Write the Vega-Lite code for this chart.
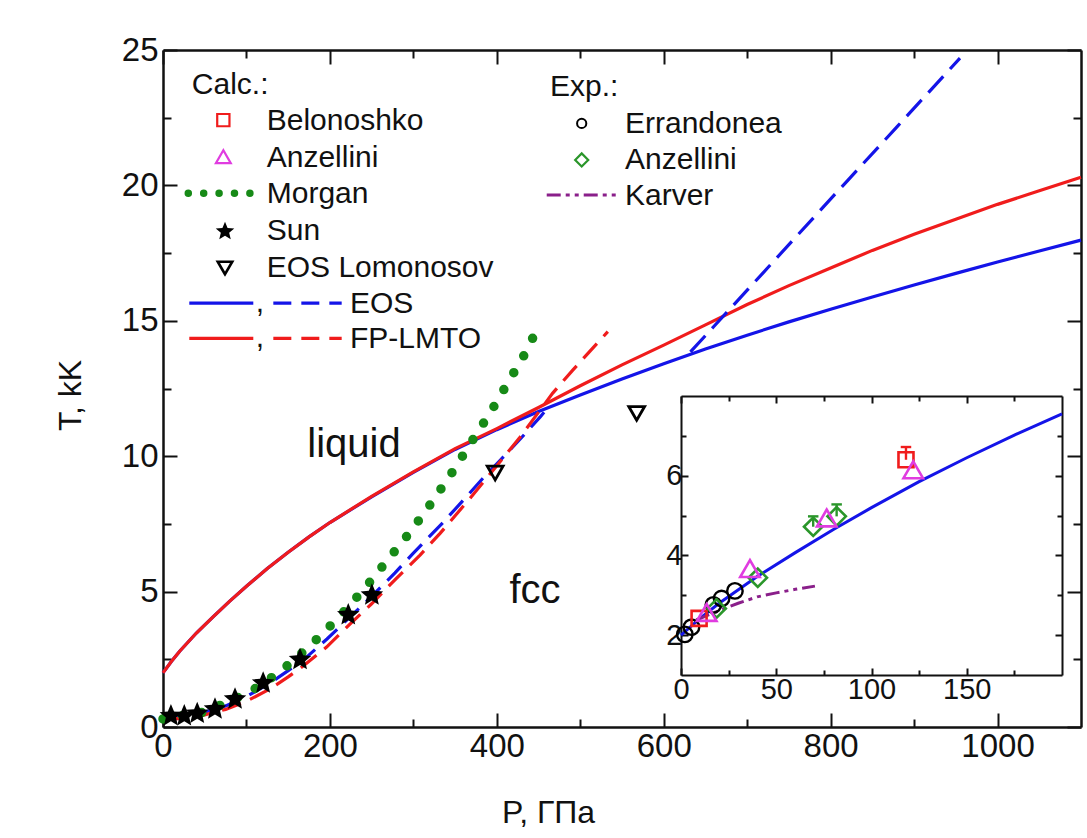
{
  "$schema": "https://vega.github.io/schema/vega-lite/v6.json",
  "width": 918,
  "height": 677,
  "autosize": {"type": "none"},
  "padding": {"left": 163, "top": 50, "right": 6, "bottom": 111},
  "background": "white",
  "config": {
    "view": {"stroke": null},
    "font": "Liberation Sans",
    "axis": {
      "domainColor": "#111111", "domainWidth": 2.5,
      "tickColor": "#111111", "tickWidth": 2,
      "labelColor": "#111111", "titleColor": "#111111",
      "labelFont": "Liberation Sans", "titleFont": "Liberation Sans",
      "titleFontWeight": "normal", "grid": false,
      "labelFlush": false, "labelOverlap": false
    },
    "text": {"font": "Liberation Sans", "color": "#111111"}
  },
  "datasets": {
    "eosMelt": [
      {"P": 0, "T": 2.0}, {"P": 10, "T": 2.42}, {"P": 20, "T": 2.8}, {"P": 40, "T": 3.47},
      {"P": 60, "T": 4.07}, {"P": 80, "T": 4.65}, {"P": 100, "T": 5.2}, {"P": 125, "T": 5.85},
      {"P": 150, "T": 6.45}, {"P": 175, "T": 7.02}, {"P": 200, "T": 7.55}, {"P": 250, "T": 8.5},
      {"P": 300, "T": 9.4}, {"P": 350, "T": 10.25}, {"P": 400, "T": 10.98}, {"P": 450, "T": 11.65},
      {"P": 500, "T": 12.26}, {"P": 550, "T": 12.85}, {"P": 600, "T": 13.41}, {"P": 650, "T": 13.96},
      {"P": 700, "T": 14.47}, {"P": 750, "T": 14.96}, {"P": 800, "T": 15.43}, {"P": 850, "T": 15.88},
      {"P": 900, "T": 16.32}, {"P": 950, "T": 16.75}, {"P": 1000, "T": 17.17}, {"P": 1050, "T": 17.58},
      {"P": 1100, "T": 17.98}
    ],
    "fpMelt": [
      {"P": 0, "T": 2.0}, {"P": 10, "T": 2.42}, {"P": 20, "T": 2.8}, {"P": 40, "T": 3.47},
      {"P": 60, "T": 4.07}, {"P": 80, "T": 4.65}, {"P": 100, "T": 5.2}, {"P": 125, "T": 5.85},
      {"P": 150, "T": 6.45}, {"P": 175, "T": 7.02}, {"P": 200, "T": 7.55}, {"P": 250, "T": 8.52},
      {"P": 300, "T": 9.42}, {"P": 350, "T": 10.28}, {"P": 400, "T": 11.02}, {"P": 450, "T": 11.8},
      {"P": 500, "T": 12.6}, {"P": 550, "T": 13.37}, {"P": 600, "T": 14.1}, {"P": 650, "T": 14.85},
      {"P": 700, "T": 15.6}, {"P": 750, "T": 16.3}, {"P": 800, "T": 16.95}, {"P": 850, "T": 17.6},
      {"P": 900, "T": 18.2}, {"P": 950, "T": 18.75}, {"P": 1000, "T": 19.3}, {"P": 1050, "T": 19.8},
      {"P": 1100, "T": 20.3}
    ],
    "eosFccLow": [
      {"P": 0, "T": 0.38}, {"P": 25, "T": 0.42}, {"P": 50, "T": 0.55}, {"P": 75, "T": 0.78},
      {"P": 100, "T": 1.12}, {"P": 128, "T": 1.62}, {"P": 150, "T": 2.08}, {"P": 168, "T": 2.47},
      {"P": 196.5, "T": 3.25}, {"P": 224, "T": 4.06}, {"P": 248, "T": 4.76}, {"P": 278, "T": 5.69},
      {"P": 300, "T": 6.42}, {"P": 335.5, "T": 7.55}, {"P": 360, "T": 8.38}, {"P": 383.5, "T": 9.19},
      {"P": 404, "T": 9.85}, {"P": 430, "T": 10.7}, {"P": 452, "T": 11.45}, {"P": 460, "T": 11.75}
    ],
    "eosFccHigh": [
      {"P": 632, "T": 13.85}, {"P": 660, "T": 14.79}, {"P": 700, "T": 16.13}, {"P": 760, "T": 18.15},
      {"P": 820, "T": 20.17}, {"P": 880, "T": 22.18}, {"P": 955, "T": 24.7}
    ],
    "fpFcc": [
      {"P": 0, "T": 0.28}, {"P": 25, "T": 0.32}, {"P": 50, "T": 0.45}, {"P": 75, "T": 0.65},
      {"P": 100, "T": 0.95}, {"P": 128, "T": 1.4}, {"P": 150, "T": 1.85}, {"P": 168, "T": 2.25},
      {"P": 196, "T": 2.95}, {"P": 224, "T": 3.8}, {"P": 250, "T": 4.55}, {"P": 280, "T": 5.5},
      {"P": 308, "T": 6.35}, {"P": 332, "T": 7.15}, {"P": 368, "T": 8.45}, {"P": 400, "T": 9.65},
      {"P": 428, "T": 10.71}, {"P": 467, "T": 12.33}, {"P": 491, "T": 13.18}, {"P": 533, "T": 14.6}
    ],
    "morgan": [
      {"P": 0, "T": 0.3}, {"P": 50, "T": 0.55}, {"P": 104, "T": 1.29}, {"P": 140, "T": 2.03},
      {"P": 176, "T": 2.99}, {"P": 210, "T": 4.03}, {"P": 242, "T": 5.13}, {"P": 270, "T": 6.2},
      {"P": 298, "T": 7.27}, {"P": 324, "T": 8.38}, {"P": 347.5, "T": 9.45}, {"P": 369, "T": 10.5},
      {"P": 392, "T": 11.6}, {"P": 413, "T": 12.7}, {"P": 434, "T": 13.8}, {"P": 443, "T": 14.36}
    ],
    "sun": [
      {"P": 9.5, "T": 0.41}, {"P": 25.5, "T": 0.41}, {"P": 41, "T": 0.5}, {"P": 62.3, "T": 0.66},
      {"P": 86.3, "T": 1.03}, {"P": 120, "T": 1.62}, {"P": 164.2, "T": 2.49}, {"P": 222, "T": 4.14},
      {"P": 250.3, "T": 4.87}
    ],
    "lomonosov": [{"P": 398, "T": 9.38}, {"P": 567.6, "T": 11.58}],
    "karver": [
      {"P": 8, "T": 2.38}, {"P": 15, "T": 2.52}, {"P": 23, "T": 2.67}, {"P": 30, "T": 2.8},
      {"P": 40, "T": 2.96}, {"P": 50, "T": 3.06}, {"P": 60, "T": 3.15}, {"P": 70.3, "T": 3.23}
    ],
    "errandonea": [
      {"P": 2, "T": 2.02}, {"P": 5.5, "T": 2.2}, {"P": 17, "T": 2.76}, {"P": 21.3, "T": 2.92}, {"P": 28.3, "T": 3.11}
    ],
    "belonoshko": [{"P": 9.5, "T": 2.42}, {"P": 118.1, "T": 6.4}],
    "anzelliniCalc": [{"P": 13.5, "T": 2.57}, {"P": 36.2, "T": 3.67}, {"P": 76.5, "T": 4.94}, {"P": 121.9, "T": 6.15}],
    "anzelliniExp": [{"P": 18.7, "T": 2.67}, {"P": 40.3, "T": 3.44}, {"P": 69.4, "T": 4.72}, {"P": 81.7, "T": 4.98}],
    "errors": [
      {"P": 69.4, "T": 4.72, "hi": 4.98, "series": "Anzellini"},
      {"P": 81.7, "T": 4.98, "hi": 5.28, "series": "Anzellini"},
      {"P": 118.1, "T": 6.4, "hi": 6.72, "series": "Belonoshko"}
    ],
    "legendText": [
      {"P": 34.5, "T": 23.72, "text": "Calc.:"},
      {"P": 124.3, "T": 22.37, "text": "Belonoshko"},
      {"P": 124.3, "T": 21.02, "text": "Anzellini"},
      {"P": 124.3, "T": 19.67, "text": "Morgan"},
      {"P": 124.3, "T": 18.31, "text": "Sun"},
      {"P": 124.3, "T": 16.96, "text": "EOS Lomonosov"},
      {"P": 224.1, "T": 15.61, "text": "EOS"},
      {"P": 224.1, "T": 14.31, "text": "FP-LMTO"},
      {"P": 463.7, "T": 23.62, "text": "Exp.:"},
      {"P": 553.6, "T": 22.27, "text": "Errandonea"},
      {"P": 553.6, "T": 20.92, "text": "Anzellini"},
      {"P": 553.6, "T": 19.62, "text": "Karver"}
    ],
    "legendCommas": [
      {"P": 116.2, "T": 15.33, "text": ","},
      {"P": 116.2, "T": 14.03, "text": ","}
    ],
    "legendLines": [
      {"P": 30.3, "T": 19.71, "series": "Morgan"}, {"P": 104.6, "T": 19.71, "series": "Morgan"},
      {"P": 31.5, "T": 15.65, "series": "EOS solid"}, {"P": 108.2, "T": 15.65, "series": "EOS solid"},
      {"P": 132.2, "T": 15.65, "series": "EOS dashed"}, {"P": 214.1, "T": 15.65, "series": "EOS dashed"},
      {"P": 31.5, "T": 14.35, "series": "FP solid"}, {"P": 108.2, "T": 14.35, "series": "FP solid"},
      {"P": 132.2, "T": 14.35, "series": "FP dashed"}, {"P": 214.1, "T": 14.35, "series": "FP dashed"},
      {"P": 459.8, "T": 19.65, "series": "Karver"}, {"P": 543.6, "T": 19.65, "series": "Karver"}
    ],
    "legendSymbols": [
      {"P": 72.3, "T": 22.41, "series": "Belonoshko"},
      {"P": 72.3, "T": 21.06, "series": "Anzellini calc"},
      {"P": 74.3, "T": 18.3, "series": "Sun"},
      {"P": 74.3, "T": 16.95, "series": "EOS Lomonosov"},
      {"P": 501.7, "T": 22.29, "series": "Errandonea"},
      {"P": 501.7, "T": 20.94, "series": "Anzellini exp"}
    ],
    "regionLabels": [
      {"P": 228.9, "T": 9.98, "text": "liquid"},
      {"P": 445.8, "T": 4.57, "text": "fcc"}
    ]
  },
  "layer": [
    {
      "layer": [
        {
          "data": {"name": "eosMelt"},
          "mark": {"type": "line", "color": "#1414e8", "strokeWidth": 3.2},
          "encoding": {
            "x": {"field": "P", "type": "quantitative", "scale": {"domain": [0, 1100], "nice": false, "zero": false},
              "axis": {"orient": "bottom", "values": [0, 200, 400, 600, 800, 1000], "format": "d", "tickSize": -14, "labelFontSize": 33, "labelPadding": 17,
                "title": "P, ГПа", "titleFontSize": 32, "titleX": 385, "titleY": 95, "titleBaseline": "alphabetic", "titleAlign": "center", "titleAnchor": "start"}},
            "y": {"field": "T", "type": "quantitative", "scale": {"domain": [0, 25], "nice": false, "zero": false},
              "axis": {"orient": "left", "values": [0, 5, 10, 15, 20, 25], "format": "d", "tickSize": -14, "labelFontSize": 33, "labelPadding": 19,
                "title": "T, kK", "titleFontSize": 32, "titleAngle": 270, "titleX": -83, "titleY": 345, "titleBaseline": "alphabetic", "titleAlign": "center", "titleAnchor": "start"}}
          }
        },
        {
          "data": {"name": "fpMelt"},
          "mark": {"type": "line", "color": "#f01c1c", "strokeWidth": 3.2},
          "encoding": {
            "x": {"field": "P", "type": "quantitative", "scale": {"domain": [0, 1100], "nice": false, "zero": false},
              "axis": {"orient": "top", "values": [0, 200, 400, 600, 800, 1000], "tickSize": -14, "labels": false, "title": null}},
            "y": {"field": "T", "type": "quantitative", "scale": {"domain": [0, 25], "nice": false, "zero": false},
              "axis": {"orient": "right", "values": [0, 5, 10, 15, 20, 25], "tickSize": -14, "labels": false, "title": null}}
          }
        },
        {
          "data": {"name": "eosFccLow"},
          "mark": {"type": "line", "color": "#1414e8", "strokeWidth": 3.2, "strokeDash": [20, 10]},
          "encoding": {
            "x": {"field": "P", "type": "quantitative", "scale": {"domain": [0, 1100], "nice": false, "zero": false},
              "axis": {"orient": "bottom", "values": [100, 300, 500, 700, 900], "tickSize": -8, "labels": false, "domain": false, "title": null}},
            "y": {"field": "T", "type": "quantitative", "scale": {"domain": [0, 25], "nice": false, "zero": false},
              "axis": {"orient": "left", "values": [2.5, 7.5, 12.5, 17.5, 22.5], "tickSize": -8, "labels": false, "domain": false, "title": null}}
          }
        },
        {
          "data": {"name": "eosFccHigh"},
          "mark": {"type": "line", "color": "#1414e8", "strokeWidth": 3.2, "strokeDash": [22, 10]},
          "encoding": {
            "x": {"field": "P", "type": "quantitative", "scale": {"domain": [0, 1100], "nice": false, "zero": false},
              "axis": {"orient": "top", "values": [100, 300, 500, 700, 900], "tickSize": -8, "labels": false, "domain": false, "title": null}},
            "y": {"field": "T", "type": "quantitative", "scale": {"domain": [0, 25], "nice": false, "zero": false},
              "axis": {"orient": "right", "values": [2.5, 7.5, 12.5, 17.5, 22.5], "tickSize": -8, "labels": false, "domain": false, "title": null}}
          }
        },
        {
          "data": {"name": "fpFcc"},
          "mark": {"type": "line", "color": "#f01c1c", "strokeWidth": 3.2, "strokeDash": [20, 10]},
          "encoding": {
            "x": {"field": "P", "type": "quantitative", "scale": {"domain": [0, 1100], "nice": false, "zero": false}, "axis": null},
            "y": {"field": "T", "type": "quantitative", "scale": {"domain": [0, 25], "nice": false, "zero": false}, "axis": null}
          }
        },
        {
          "data": {"name": "morgan"},
          "mark": {"type": "line", "color": "#178a17", "strokeWidth": 9.5, "strokeCap": "round", "strokeDash": [0, 19.6]},
          "encoding": {
            "x": {"field": "P", "type": "quantitative", "scale": {"domain": [0, 1100], "nice": false, "zero": false}, "axis": null},
            "y": {"field": "T", "type": "quantitative", "scale": {"domain": [0, 25], "nice": false, "zero": false}, "axis": null}
          }
        },
        {
          "data": {"name": "sun"},
          "mark": {"type": "point", "shape": "M0,-1L0.264,-0.363L0.951,-0.309L0.427,0.139L0.588,0.809L0,0.45L-0.588,0.809L-0.427,0.139L-0.951,-0.309L-0.264,-0.363Z", "filled": true, "color": "#000000", "size": 560, "opacity": 1},
          "encoding": {
            "x": {"field": "P", "type": "quantitative", "scale": {"domain": [0, 1100], "nice": false, "zero": false}, "axis": null},
            "y": {"field": "T", "type": "quantitative", "scale": {"domain": [0, 25], "nice": false, "zero": false}, "axis": null}
          }
        },
        {
          "data": {"name": "lomonosov"},
          "mark": {"type": "point", "shape": "triangle-down", "filled": false, "color": "#000000", "size": 250, "strokeWidth": 2.8, "opacity": 1},
          "encoding": {
            "x": {"field": "P", "type": "quantitative", "scale": {"domain": [0, 1100], "nice": false, "zero": false}, "axis": null},
            "y": {"field": "T", "type": "quantitative", "scale": {"domain": [0, 25], "nice": false, "zero": false}, "axis": null}
          }
        },
        {
          "data": {"name": "regionLabels"},
          "mark": {"type": "text", "fontSize": 40, "align": "center", "baseline": "alphabetic"},
          "encoding": {
            "x": {"field": "P", "type": "quantitative", "scale": {"domain": [0, 1100], "nice": false, "zero": false}, "axis": null},
            "y": {"field": "T", "type": "quantitative", "scale": {"domain": [0, 25], "nice": false, "zero": false}, "axis": null},
            "text": {"field": "text"}
          }
        },
        {
          "data": {"name": "legendText"},
          "mark": {"type": "text", "fontSize": 30, "align": "left", "baseline": "middle"},
          "encoding": {
            "x": {"field": "P", "type": "quantitative", "scale": {"domain": [0, 1100], "nice": false, "zero": false}, "axis": null},
            "y": {"field": "T", "type": "quantitative", "scale": {"domain": [0, 25], "nice": false, "zero": false}, "axis": null},
            "text": {"field": "text"}
          }
        },
        {
          "data": {"name": "legendCommas"},
          "mark": {"type": "text", "fontSize": 30, "align": "center", "baseline": "alphabetic"},
          "encoding": {
            "x": {"field": "P", "type": "quantitative", "scale": {"domain": [0, 1100], "nice": false, "zero": false}, "axis": null},
            "y": {"field": "T", "type": "quantitative", "scale": {"domain": [0, 25], "nice": false, "zero": false}, "axis": null},
            "text": {"field": "text"}
          }
        },
        {
          "data": {"name": "legendLines"},
          "transform": [{"filter": {"field": "series", "equal": "Morgan"}}],
          "mark": {"type": "line", "color": "#178a17", "strokeWidth": 7.5, "strokeCap": "round", "strokeDash": [0, 15.4]},
          "encoding": {
            "x": {"field": "P", "type": "quantitative", "scale": {"domain": [0, 1100], "nice": false, "zero": false}, "axis": null},
            "y": {"field": "T", "type": "quantitative", "scale": {"domain": [0, 25], "nice": false, "zero": false}, "axis": null}
          }
        },
        {
          "data": {"name": "legendLines"},
          "transform": [{"filter": {"field": "series", "equal": "EOS solid"}}],
          "mark": {"type": "line", "color": "#1414e8", "strokeWidth": 3.2},
          "encoding": {
            "x": {"field": "P", "type": "quantitative", "scale": {"domain": [0, 1100], "nice": false, "zero": false}, "axis": null},
            "y": {"field": "T", "type": "quantitative", "scale": {"domain": [0, 25], "nice": false, "zero": false}, "axis": null}
          }
        },
        {
          "data": {"name": "legendLines"},
          "transform": [{"filter": {"field": "series", "equal": "EOS dashed"}}],
          "mark": {"type": "line", "color": "#1414e8", "strokeWidth": 3.2, "strokeDash": [18, 10]},
          "encoding": {
            "x": {"field": "P", "type": "quantitative", "scale": {"domain": [0, 1100], "nice": false, "zero": false}, "axis": null},
            "y": {"field": "T", "type": "quantitative", "scale": {"domain": [0, 25], "nice": false, "zero": false}, "axis": null}
          }
        },
        {
          "data": {"name": "legendLines"},
          "transform": [{"filter": {"field": "series", "equal": "FP solid"}}],
          "mark": {"type": "line", "color": "#f01c1c", "strokeWidth": 3.2},
          "encoding": {
            "x": {"field": "P", "type": "quantitative", "scale": {"domain": [0, 1100], "nice": false, "zero": false}, "axis": null},
            "y": {"field": "T", "type": "quantitative", "scale": {"domain": [0, 25], "nice": false, "zero": false}, "axis": null}
          }
        },
        {
          "data": {"name": "legendLines"},
          "transform": [{"filter": {"field": "series", "equal": "FP dashed"}}],
          "mark": {"type": "line", "color": "#f01c1c", "strokeWidth": 3.2, "strokeDash": [18, 10]},
          "encoding": {
            "x": {"field": "P", "type": "quantitative", "scale": {"domain": [0, 1100], "nice": false, "zero": false}, "axis": null},
            "y": {"field": "T", "type": "quantitative", "scale": {"domain": [0, 25], "nice": false, "zero": false}, "axis": null}
          }
        },
        {
          "data": {"name": "legendLines"},
          "transform": [{"filter": {"field": "series", "equal": "Karver"}}],
          "mark": {"type": "line", "color": "#8a1f8a", "strokeWidth": 3, "strokeDash": [14, 5, 4, 5, 4, 5]},
          "encoding": {
            "x": {"field": "P", "type": "quantitative", "scale": {"domain": [0, 1100], "nice": false, "zero": false}, "axis": null},
            "y": {"field": "T", "type": "quantitative", "scale": {"domain": [0, 25], "nice": false, "zero": false}, "axis": null}
          }
        },
        {
          "data": {"name": "legendSymbols"},
          "transform": [{"filter": {"field": "series", "equal": "Belonoshko"}}],
          "mark": {"type": "point", "shape": "square", "filled": false, "color": "#f01c1c", "size": 150, "strokeWidth": 2.2, "opacity": 1},
          "encoding": {
            "x": {"field": "P", "type": "quantitative", "scale": {"domain": [0, 1100], "nice": false, "zero": false}, "axis": null},
            "y": {"field": "T", "type": "quantitative", "scale": {"domain": [0, 25], "nice": false, "zero": false}, "axis": null}
          }
        },
        {
          "data": {"name": "legendSymbols"},
          "transform": [{"filter": {"field": "series", "equal": "Anzellini calc"}}],
          "mark": {"type": "point", "shape": "triangle-up", "filled": false, "color": "#e03ce0", "size": 220, "strokeWidth": 2.2, "opacity": 1},
          "encoding": {
            "x": {"field": "P", "type": "quantitative", "scale": {"domain": [0, 1100], "nice": false, "zero": false}, "axis": null},
            "y": {"field": "T", "type": "quantitative", "scale": {"domain": [0, 25], "nice": false, "zero": false}, "axis": null}
          }
        },
        {
          "data": {"name": "legendSymbols"},
          "transform": [{"filter": {"field": "series", "equal": "Sun"}}],
          "mark": {"type": "point", "shape": "M0,-1L0.264,-0.363L0.951,-0.309L0.427,0.139L0.588,0.809L0,0.45L-0.588,0.809L-0.427,0.139L-0.951,-0.309L-0.264,-0.363Z", "filled": true, "color": "#000000", "size": 380, "opacity": 1},
          "encoding": {
            "x": {"field": "P", "type": "quantitative", "scale": {"domain": [0, 1100], "nice": false, "zero": false}, "axis": null},
            "y": {"field": "T", "type": "quantitative", "scale": {"domain": [0, 25], "nice": false, "zero": false}, "axis": null}
          }
        },
        {
          "data": {"name": "legendSymbols"},
          "transform": [{"filter": {"field": "series", "equal": "EOS Lomonosov"}}],
          "mark": {"type": "point", "shape": "triangle-down", "filled": false, "color": "#000000", "size": 210, "strokeWidth": 2.6, "opacity": 1},
          "encoding": {
            "x": {"field": "P", "type": "quantitative", "scale": {"domain": [0, 1100], "nice": false, "zero": false}, "axis": null},
            "y": {"field": "T", "type": "quantitative", "scale": {"domain": [0, 25], "nice": false, "zero": false}, "axis": null}
          }
        },
        {
          "data": {"name": "legendSymbols"},
          "transform": [{"filter": {"field": "series", "equal": "Errandonea"}}],
          "mark": {"type": "point", "shape": "circle", "filled": false, "color": "#000000", "size": 85, "strokeWidth": 2, "opacity": 1},
          "encoding": {
            "x": {"field": "P", "type": "quantitative", "scale": {"domain": [0, 1100], "nice": false, "zero": false}, "axis": null},
            "y": {"field": "T", "type": "quantitative", "scale": {"domain": [0, 25], "nice": false, "zero": false}, "axis": null}
          }
        },
        {
          "data": {"name": "legendSymbols"},
          "transform": [{"filter": {"field": "series", "equal": "Anzellini exp"}}],
          "mark": {"type": "point", "shape": "diamond", "filled": false, "color": "#2a962a", "size": 170, "strokeWidth": 2.2, "opacity": 1},
          "encoding": {
            "x": {"field": "P", "type": "quantitative", "scale": {"domain": [0, 1100], "nice": false, "zero": false}, "axis": null},
            "y": {"field": "T", "type": "quantitative", "scale": {"domain": [0, 25], "nice": false, "zero": false}, "axis": null}
          }
        }
      ],
      "resolve": {"axis": {"x": "independent", "y": "independent"}}
    },
    {
      "layer": [
        {
          "data": {"name": "eosMelt"},
          "transform": [{"filter": {"field": "P", "lte": 200}}],
          "mark": {"type": "line", "color": "#1414e8", "strokeWidth": 3},
          "encoding": {
            "x": {"field": "P", "type": "quantitative", "scale": {"domain": [0, 200], "range": [518, 899], "nice": false, "zero": false},
              "axis": {"orient": "bottom", "offset": -52, "values": [0, 50, 100, 150], "tickSize": -7, "labelFontSize": 29, "labelPadding": 7, "domainWidth": 2, "title": null}},
            "y": {"field": "T", "type": "quantitative", "scale": {"domain": [1, 8], "range": [625, 346], "nice": false, "zero": false},
              "axis": {"orient": "left", "offset": -518, "values": [2, 4, 6], "tickSize": -7, "labelFontSize": 29, "labelPadding": 6, "domainWidth": 2, "title": null}}
          }
        },
        {
          "data": {"name": "karver"},
          "mark": {"type": "line", "color": "#8a1f8a", "strokeWidth": 3, "strokeDash": [14, 5, 4, 5, 4, 5]},
          "encoding": {
            "x": {"field": "P", "type": "quantitative", "scale": {"domain": [0, 200], "range": [518, 899], "nice": false, "zero": false},
              "axis": {"orient": "top", "offset": -346, "values": [0, 50, 100, 150], "tickSize": -7, "labels": false, "domainWidth": 2, "title": null}},
            "y": {"field": "T", "type": "quantitative", "scale": {"domain": [1, 8], "range": [625, 346], "nice": false, "zero": false},
              "axis": {"orient": "right", "offset": -19, "values": [2, 4, 6], "tickSize": -7, "labels": false, "domainWidth": 2, "title": null}}
          }
        },
        {
          "data": {"name": "errandonea"},
          "mark": {"type": "point", "shape": "circle", "filled": false, "color": "#000000", "size": 240, "strokeWidth": 2.4, "opacity": 1},
          "encoding": {
            "x": {"field": "P", "type": "quantitative", "scale": {"domain": [0, 200], "range": [518, 899], "nice": false, "zero": false},
              "axis": {"orient": "bottom", "offset": -52, "values": [25, 75, 125, 175], "tickSize": -5, "labels": false, "domain": false, "title": null}},
            "y": {"field": "T", "type": "quantitative", "scale": {"domain": [1, 8], "range": [625, 346], "nice": false, "zero": false},
              "axis": {"orient": "left", "offset": -518, "values": [3, 5, 7], "tickSize": -5, "labels": false, "domain": false, "title": null}}
          }
        },
        {
          "data": {"name": "errors"},
          "mark": {"type": "rule", "strokeWidth": 2.4},
          "encoding": {
            "x": {"field": "P", "type": "quantitative", "scale": {"domain": [0, 200], "range": [518, 899], "nice": false, "zero": false},
              "axis": {"orient": "top", "offset": -346, "values": [25, 75, 125, 175], "tickSize": -5, "labels": false, "domain": false, "title": null}},
            "y": {"field": "T", "type": "quantitative", "scale": {"domain": [1, 8], "range": [625, 346], "nice": false, "zero": false},
              "axis": {"orient": "right", "offset": -19, "values": [3, 5, 7], "tickSize": -5, "labels": false, "domain": false, "title": null}},
            "y2": {"field": "hi"},
            "color": {"field": "series", "type": "nominal", "scale": {"domain": ["Anzellini", "Belonoshko"], "range": ["#2a962a", "#f01c1c"]}, "legend": null}
          }
        },
        {
          "data": {"name": "errors"},
          "mark": {"type": "point", "shape": "stroke", "filled": false, "size": 110, "strokeWidth": 2.4, "opacity": 1},
          "encoding": {
            "x": {"field": "P", "type": "quantitative", "scale": {"domain": [0, 200], "range": [518, 899], "nice": false, "zero": false}, "axis": null},
            "y": {"field": "hi", "type": "quantitative", "scale": {"domain": [1, 8], "range": [625, 346], "nice": false, "zero": false}, "axis": null},
            "color": {"field": "series", "type": "nominal", "scale": {"domain": ["Anzellini", "Belonoshko"], "range": ["#2a962a", "#f01c1c"]}, "legend": null}
          }
        },
        {
          "data": {"name": "belonoshko"},
          "mark": {"type": "point", "shape": "square", "filled": false, "color": "#f01c1c", "size": 225, "strokeWidth": 2.6, "opacity": 1},
          "encoding": {
            "x": {"field": "P", "type": "quantitative", "scale": {"domain": [0, 200], "range": [518, 899], "nice": false, "zero": false}, "axis": null},
            "y": {"field": "T", "type": "quantitative", "scale": {"domain": [1, 8], "range": [625, 346], "nice": false, "zero": false}, "axis": null}
          }
        },
        {
          "data": {"name": "anzelliniExp"},
          "mark": {"type": "point", "shape": "diamond", "filled": false, "color": "#2a962a", "size": 340, "strokeWidth": 2.6, "opacity": 1},
          "encoding": {
            "x": {"field": "P", "type": "quantitative", "scale": {"domain": [0, 200], "range": [518, 899], "nice": false, "zero": false}, "axis": null},
            "y": {"field": "T", "type": "quantitative", "scale": {"domain": [1, 8], "range": [625, 346], "nice": false, "zero": false}, "axis": null}
          }
        },
        {
          "data": {"name": "anzelliniCalc"},
          "mark": {"type": "point", "shape": "triangle-up", "filled": false, "color": "#e03ce0", "size": 380, "strokeWidth": 2.6, "opacity": 1},
          "encoding": {
            "x": {"field": "P", "type": "quantitative", "scale": {"domain": [0, 200], "range": [518, 899], "nice": false, "zero": false}, "axis": null},
            "y": {"field": "T", "type": "quantitative", "scale": {"domain": [1, 8], "range": [625, 346], "nice": false, "zero": false}, "axis": null}
          }
        }
      ],
      "resolve": {"axis": {"x": "independent", "y": "independent"}}
    }
  ],
  "resolve": {"scale": {"x": "independent", "y": "independent"}}
}
